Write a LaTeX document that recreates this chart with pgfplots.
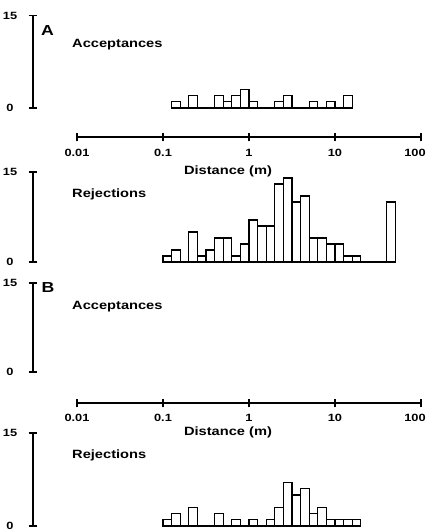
\documentclass[border=0pt]{standalone}
\usepackage{fontspec}
\newfontfamily\lab{Liberation Sans}[FakeStretch=1.22]
\usepackage{pgfplots}
\pgfplotsset{compat=1.18}

% log bins, 10 per decade, from 0.1 m
\pgfplotsset{
  panel/.style={
    scale only axis, width=388pt, xmin=0.003078, xmax=100,
    ymin=0, ymax=15, clip=false,
    axis x line=none, axis y line=left, y axis line style={-, line width=1.1pt},
    ytick={0,15}, yticklabels={0,15}, minor ytick={},
    tick align=center, major tick length=9pt,
    tick style={black, line width=1.1pt},
    yticklabel style={font=\lab\bfseries\fontsize{10.5}{12}\selectfont, anchor=center, xshift=-18.5pt},
    anchor=south west,
  },
  dist/.style={
    scale only axis, width=344pt, height=1pt, xmin=0.01, xmax=100,
    ymin=0, ymax=1, clip=false,
    axis y line=none, axis x line=bottom, x axis line style={-, line width=1.1pt},
    xtick={0.01,0.1,1,10,100}, xminorticks=false,
    xticklabels={0.01,0.1,1,10,\hbox to 0pt{\hss 100\hskip12pt\hss}},
    tick align=center, major tick length=9pt,
    tick style={black, line width=1.1pt},
    xticklabel style={font=\lab\bfseries\fontsize{10.5}{12}\selectfont},
    xlabel={Distance (m)},
    anchor=south west,
  },
  bars/.style={ybar interval, draw=black, fill=white, line width=1.1pt},
}

\begin{document}
\begin{tikzpicture}
\useasboundingbox (0,0) rectangle (431pt,531pt);

% A, acceptances
\begin{axis}[xmode=log, panel, height=92.5pt, at={(33pt,423pt)}]
\addplot[bars] coordinates {
(0.1259,1) (0.1585,0) (0.1995,2) (0.2512,0) (0.3162,0) (0.3981,2) (0.5012,1)
(0.6310,2) (0.7943,3) (1,1) (1.259,0) (1.585,0) (1.995,1) (2.512,2) (3.162,0)
(3.981,0) (5.012,1) (6.310,0) (7.943,1) (10,0) (12.59,2) (15.85,0)
};
\end{axis}

\begin{axis}[xmode=log, dist, at={(77pt,394pt)},
  xticklabel style={yshift=-4pt},
  xlabel style={font=\lab\bfseries\fontsize{12}{14}\selectfont, at={(axis description cs:0.439,0)}, anchor=center, yshift=-34.7pt}]
\end{axis}

% A, rejections
\begin{axis}[xmode=log, panel, height=90pt, at={(33pt,269pt)}]
\addplot[bars] coordinates {
(0.1,1) (0.1259,2) (0.1585,0) (0.1995,5) (0.2512,1) (0.3162,2) (0.3981,4) (0.5012,4)
(0.6310,1) (0.7943,3) (1,7) (1.259,6) (1.585,6) (1.995,13) (2.512,14) (3.162,10)
(3.981,11) (5.012,4) (6.310,4) (7.943,3) (10,3) (12.59,1) (15.85,1) (19.95,0)
(25.12,0) (31.62,0) (39.81,10) (50.12,0)
};
\end{axis}

% B, acceptances (none)
\begin{axis}[xmode=log, panel, height=89pt, at={(33pt,159pt)}]
\end{axis}

\begin{axis}[xmode=log, dist, at={(77pt,128pt)},
  xticklabel style={yshift=-3pt},
  xlabel style={font=\lab\bfseries\fontsize{12}{14}\selectfont, at={(axis description cs:0.439,0)}, anchor=center, yshift=-29.7pt}]
\end{axis}

% B, rejections
\begin{axis}[xmode=log, panel, height=93pt, at={(33pt,5pt)}]
\addplot[bars] coordinates {
(0.1,1) (0.1259,2) (0.1585,0) (0.1995,3) (0.2512,0) (0.3162,0) (0.3981,2) (0.5012,0)
(0.6310,1) (0.7943,0) (1,1) (1.259,0) (1.585,1) (1.995,3) (2.512,7) (3.162,5)
(3.981,6) (5.012,2) (6.310,3) (7.943,1) (10,1) (12.59,1) (15.85,1) (19.95,0)
};
\end{axis}

\begin{scope}[every node/.style={inner sep=0pt, font=\lab\bfseries\fontsize{12}{14}\selectfont}]
\node[font=\lab\bfseries\fontsize{14.5}{16}\selectfont] at (47.5pt,500pt) {A};
\node[anchor=base west] at (72pt,483pt) {Acceptances};
\node[anchor=base west] at (72pt,333pt) {Rejections};
\node[font=\lab\bfseries\fontsize{14.5}{16}\selectfont] at (48pt,243.5pt) {B};
\node[anchor=base west] at (72pt,221pt) {Acceptances};
\node[anchor=base west] at (72pt,72pt) {Rejections};
\end{scope}
\end{tikzpicture}
\end{document}
